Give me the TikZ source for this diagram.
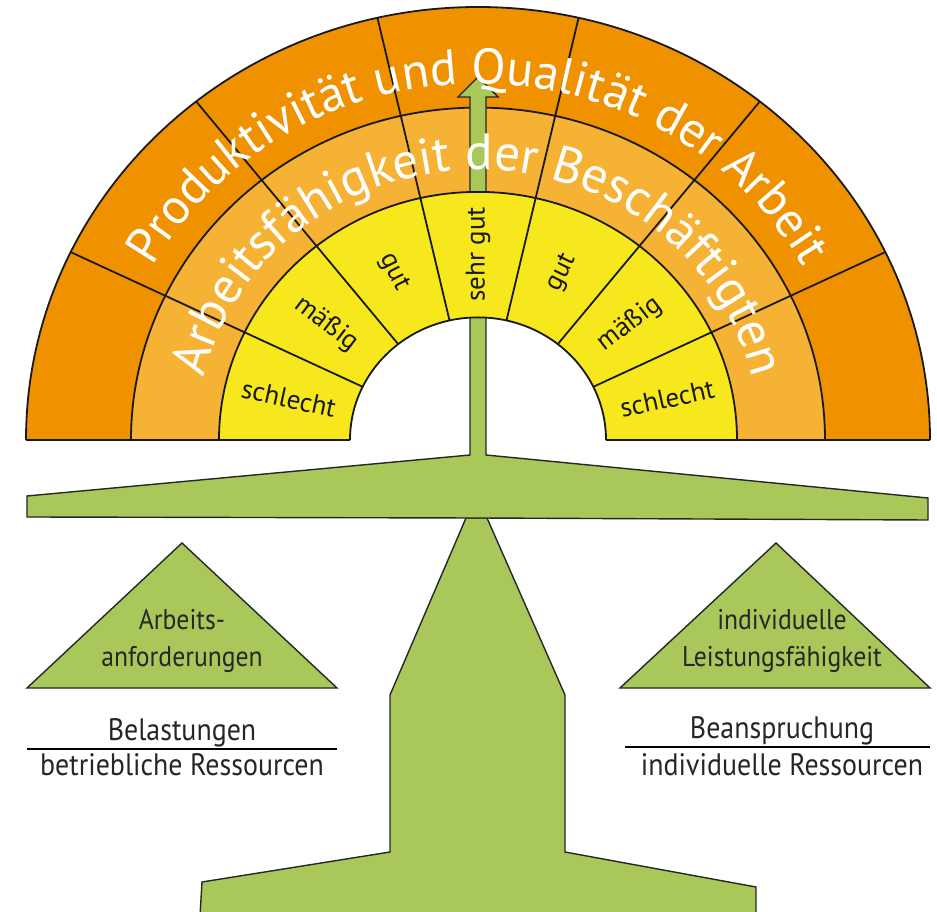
\documentclass[tikz,border=0pt]{standalone}
\usepackage{fontspec}
\setmainfont{PT Sans}
\newfontfamily\condfont{PT Sans}[FakeStretch=0.9]
\usetikzlibrary{decorations.text}
\definecolor{orD}{RGB}{240,146,0}
\definecolor{orL}{RGB}{246,178,52}
\definecolor{yel}{RGB}{246,232,28}
\definecolor{grn}{RGB}{170,200,90}
\tikzset{
  outl/.style={draw=black!90, line width=1.8pt},
  gshape/.style={fill=grn, draw=black!85, line width=1.4pt, line join=miter},
  lab/.style={font=\fontsize{27}{32}\selectfont, text=black!90, inner sep=0pt},
  tri/.style={font=\condfont\fontsize{28.5}{34}\selectfont, text=black!85, anchor=base, inner sep=0pt},
  btxt/.style={font=\condfont\fontsize{31}{36}\selectfont, text=black!85, anchor=base, inner sep=0pt}
}
\begin{document}
\begin{tikzpicture}[x=1pt,y=1pt]
\useasboundingbox (0,0) rectangle (937,911);
\clip (0,0) rectangle (937,911);
\def\k{0.958}
\coordinate (C) at (478,471);
% orange ring fills
\fill[orD] (26,471) arc[start angle=180,end angle=0,x radius=452,y radius=433] -- cycle;
\fill[orL] (131,471) arc[start angle=180,end angle=0,x radius=347,y radius=332.4] -- cycle;
\fill[white] (219,471) arc[start angle=180,end angle=0,x radius=259,y radius=248.1] -- cycle;
% radial lines in orange rings
\foreach \i in {1,...,6}{
  \draw[outl] ({478+259*cos(\i*180/7)},{471+259*\k*sin(\i*180/7)}) -- ({478+452*cos(\i*180/7)},{471+452*\k*sin(\i*180/7)});
}
\draw[outl] (26,471) arc[start angle=180,end angle=0,x radius=452,y radius=433];
\draw[outl] (131,471) arc[start angle=180,end angle=0,x radius=347,y radius=332.4];
\draw[outl] (26,471) -- (219,471);
\draw[outl] (737,471) -- (930,471);
% stand
\fill[grn] (466,393) -- (390,216) -- (390,59) -- (202,29) -- (200,-5) -- (756,-5) -- (756,24) -- (565,59) -- (565,216) -- (487,393) -- cycle;
\draw[gshape, fill=none] (200,-5) -- (202,29) -- (390,59) -- (390,216) -- (466,393) -- (487,393) -- (565,216) -- (565,59) -- (756,24) -- (756,-5);
% beam with arrow
\draw[gshape] (27,415) -- (470,456) -- (470,814) -- (458,814) -- (478,834) -- (498,814) -- (486,814) -- (486,456) -- (928,413) -- (928,391) -- (478,393) -- (27,394) -- cycle;
% yellow ring (covers the stem)
\fill[yel] (219,471) arc[start angle=180,end angle=0,x radius=259,y radius=248.1] -- (606,471) arc[start angle=0,end angle=180,x radius=128,y radius=122.6] -- cycle;
\foreach \i in {1,...,6}{
  \draw[outl] ({478+128*cos(\i*180/7)},{471+128*\k*sin(\i*180/7)}) -- ({478+259*cos(\i*180/7)},{471+259*\k*sin(\i*180/7)});
}
\draw[outl] (219,471) arc[start angle=180,end angle=0,x radius=259,y radius=248.1];
\draw[outl] (350,471) arc[start angle=180,end angle=0,x radius=128,y radius=122.6];
\draw[outl] (219,471) -- (350,471);
\draw[outl] (606,471) -- (737,471);
% curved texts
\path[decorate, decoration={text along path, text align=center,
  text={|\fontsize{50}{60}\selectfont\color{white}|Produktivität und Qualität der Arbeit}}]
  (106,471) arc[start angle=180,end angle=0,x radius=372,y radius=356.4];
\path[decorate, decoration={text along path, text align=center,
  text={|\fontsize{51}{60}\selectfont\color{white}|Arbeitsfähigkeit der Beschäftigten}}]
  (196,471) arc[start angle=180,end angle=0,x radius=282,y radius=270.2];
% yellow labels
\node[lab, rotate=-12.3] (s1) at ({478+194*cos(167.14)},{471+194*\k*sin(167.14)}) {schlecht};
\node[lab, rotate=-37.4] (s2) at ({478+194*cos(141.43)},{471+194*\k*sin(141.43)}) {mäßig};
\node[lab, rotate=-63.3] (s3) at ({478+194*cos(115.71)},{471+194*\k*sin(115.71)}) {gut};
\node[lab, rotate=90] (s4) at ({478},{471+194*\k}) {sehr gut};
\node[lab, rotate=63.3] (s5) at ({478+194*cos(64.29)},{471+194*\k*sin(64.29)}) {gut};
\node[lab, rotate=37.4] (s6) at ({478+194*cos(38.57)},{471+194*\k*sin(38.57)}) {mäßig};
\node[lab, rotate=12.3] (s7) at ({478+194*cos(12.86)},{471+194*\k*sin(12.86)}) {schlecht};
% triangles
\draw[gshape] (27,223) -- (182,368) -- (337,223) -- cycle;
\draw[gshape] (620,223) -- (776,368) -- (930,223) -- cycle;
\node[tri] (t1a) at (182,281) {Arbeits-};
\node[tri] (t1b) at (182,244) {anforderungen};
\node[tri] (t2a) at (782,281) {individuelle};
\node[tri] (t2b) at (782,244) {Leistungsfähigkeit};
% bottom texts
\node[btxt] (b1) at (182,171) {Belastungen};
\node[btxt] (b2) at (182,136) {betriebliche Ressourcen};
\draw[line width=1.6pt] (27,162) -- (337,162);
\node[btxt] (b3) at (782,173) {Beanspruchung};
\node[btxt] (b4) at (782,136) {individuelle Ressourcen};
\draw[line width=1.6pt] (625,164) -- (930,164);
\end{tikzpicture}
\end{document}
